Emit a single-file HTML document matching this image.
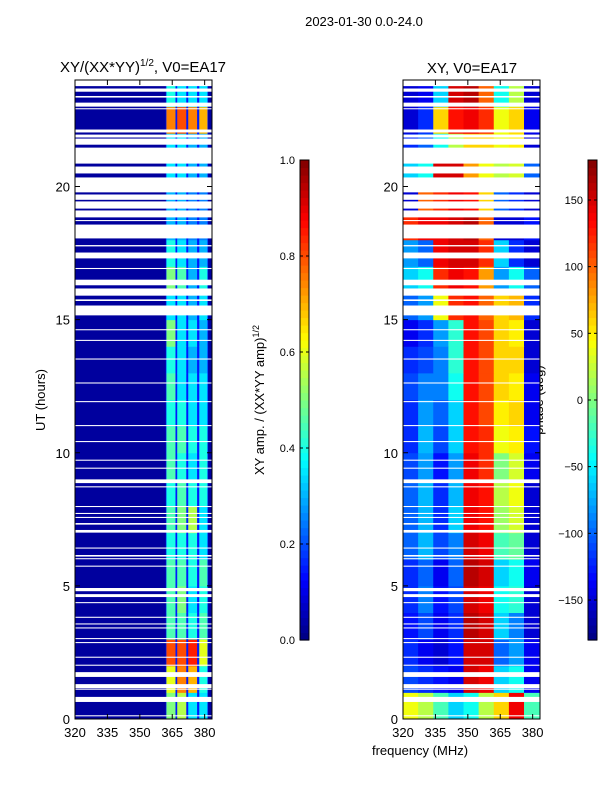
<!DOCTYPE html>
<html><head><meta charset="utf-8">
<style>
html,body{margin:0;padding:0;background:#fff;}
svg{display:block;font-family:"Liberation Sans",sans-serif;}
</style></head>
<body>
<svg id="fig" width="600" height="800" viewBox="0 0 600 800" xmlns="http://www.w3.org/2000/svg">
<text x="364" y="26" font-size="13" text-anchor="middle">2023-01-30 0.0-24.0</text>
<text x="143" y="72" font-size="15" text-anchor="middle">XY/(XX*YY)<tspan font-size="10" dy="-6">1/2</tspan><tspan dy="6">, V0=EA17</tspan></text>
<text x="472" y="73" font-size="15" text-anchor="middle">XY, V0=EA17</text>
<text x="45" y="400" font-size="13" text-anchor="middle" transform="rotate(-90 45 400)">UT (hours)</text>
<text x="264" y="400" font-size="13" text-anchor="middle" transform="rotate(-90 264 400)">XY amp. / (XX*YY amp)<tspan font-size="9" dy="-5">1/2</tspan></text>
<text x="543" y="400" font-size="13" text-anchor="middle" transform="rotate(-90 543 400)">phase (deg)</text>
<text x="420" y="755" font-size="13" text-anchor="middle">frequency (MHz)</text>
<g id="left"></g>
<g id="right"></g>
<g id="cbars"></g>
</svg>
<script>
const hours=[0,1,2,3,4,5,6,7,8,9,10,11,12,13,14,15,16,17,18,19,20,21,22,23];
const ampBandEdges=[[362.3,366.5],[367.3,371.5],[372.4,376.5],[377.5,381.3]];
const ampBackground=0.03;
const ampBetween=0.15;
const ampRows=[[0.5,0.55,0.35,0.35],[0.6,0.75,0.7,0.4],[0.8,0.8,0.85,0.6],[0.45,0.45,0.4,0.45],[0.45,0.5,0.35,0.4],[0.45,0.45,0.4,0.45],[0.4,0.4,0.4,0.35],[0.45,0.5,0.55,0.35],[0.4,0.45,0.4,0.4],[0.45,0.4,0.35,0.4],[0.45,0.45,0.4,0.4],[0.4,0.4,0.35,0.35],[0.45,0.35,0.35,0.35],[0.4,0.35,0.3,0.3],[0.5,0.35,0.35,0.3],[0.35,0.35,0.3,0.35],[0.5,0.45,0.3,0.4],[0.4,0.35,0.3,0.3],[0.3,0.3,0.25,0.25],[0.3,0.3,0.25,0.25],[0.35,0.35,0.3,0.3],[0.35,0.35,0.3,0.3],[0.75,0.8,0.75,0.7],[0.4,0.35,0.35,0.35]];
const phaseColEdges=[320,327,334,341,348,355,362,369,376,383.4];
const phaseRows=[[40,20,-20,-60,-40,20,60,140,-20],[-110,-120,-130,-140,150,140,-60,-40,-140],[-120,-140,-150,-130,150,150,-100,-80,-140],[-130,-110,-140,-120,160,150,-60,-90,-150],[-120,-90,-130,-110,150,140,-40,-30,-150],[-120,-100,-140,-100,160,150,-60,-40,-140],[-100,-70,-110,-90,150,140,-20,-10,-150],[-100,-70,-120,-60,140,130,10,30,-150],[-100,-70,-120,-70,140,130,20,40,-150],[-110,-80,-130,-80,140,120,0,30,-140],[-120,-70,-110,-60,130,120,40,50,-130],[-120,-80,-100,-60,130,110,50,60,-140],[-110,-90,-90,-40,130,110,60,50,-140],[-120,-110,-90,-30,130,110,60,60,-150],[-140,-120,-80,-30,130,110,60,50,-150],[-100,-80,40,120,130,100,60,70,-120],[-60,-40,120,140,130,80,-80,-40,-100],[-80,-100,140,150,150,120,-60,-120,-150],[120,140,140,150,160,100,-150,-150,-130],[-150,100,120,140,130,60,-100,-120,-150],[-60,-40,150,150,80,40,20,30,-100],[-120,-100,-40,20,60,60,40,50,-150],[-150,-120,60,130,140,120,40,60,-140],[-150,-140,-60,150,160,100,-40,20,-150]];
const gaps=[[23.77,24],[23.56,23.68],[23.34,23.4],[23.0,23.15],[22.9,22.94],[22.03,22.14],[21.84,21.95],[21.57,21.8],[20.86,21.46],[20.49,20.75],[19.78,20.34],[19.5,19.7],[19.17,19.44],[18.84,19.1],[18.7,18.74],[18.05,18.57],[17.75,17.8],[17.3,17.52],[16.9,16.94],[16.29,16.5],[15.9,16.17],[15.7,15.76],[15.16,15.53],[14.6,14.64],[14.2,14.24],[13.5,13.54],[12.6,12.64],[11.9,11.94],[11.0,11.04],[10.4,10.44],[9.7,9.74],[9.4,9.44],[8.86,9.0],[8.7,8.74],[7.96,8.0],[7.7,7.74],[7.55,7.59],[7.3,7.36],[7.0,7.1],[6.4,6.44],[6.1,6.16],[6.0,6.04],[5.72,5.76],[4.8,4.92],[4.58,4.69],[4.35,4.39],[3.8,3.84],[3.55,3.59],[3.4,3.44],[3.0,3.04],[2.85,2.89],[2.3,2.34],[2.0,2.04],[1.58,1.76],[1.16,1.31],[1.1,1.14],[0.64,0.83],[0.1,0.14]];
const yTicks=[0,5,10,15,20];
const xTicks=[320,335,350,365,380];
const ampCbTicks=[0,0.2,0.4,0.6,0.8,1.0];
const phaseCbTicks=[-150,-100,-50,0,50,100,150];

const NS="http://www.w3.org/2000/svg";
function jet(v){v=Math.max(0,Math.min(1,v));
 const r=Math.min(4*v-1.5,-4*v+4.5),g=Math.min(4*v-0.5,-4*v+3.5),b=Math.min(4*v+0.5,-4*v+2.5);
 const c=x=>Math.round(255*Math.max(0,Math.min(1,x)));return `rgb(${c(r)},${c(g)},${c(b)})`;}
function el(tag,attrs,parent){const e=document.createElementNS(NS,tag);for(const k in attrs)e.setAttribute(k,attrs[k]);parent.appendChild(e);return e;}
const yTop=80,yBot=719;
function yS(h){return yBot-(h/24)*(yBot-yTop);}
function makeX(x0){return f=>x0+(f-320)*(137/63.4);}

function axes(g,x0,xS,name){
 for(const t of yTicks){const y=yS(t);
  const tk=el('line',{x1:x0,x2:x0+5,y1:y,y2:y,stroke:'#000'},g);
  
  el('line',{x1:x0+137-5,x2:x0+137,y1:y,y2:y,stroke:'#000'},g);
  const tx=el('text',{x:x0-5,y:y+5,'font-size':13,'text-anchor':'end'},g);tx.textContent=t;
  }
 for(const t of xTicks){const x=xS(t);
  el('line',{x1:x,x2:x,y1:yBot,y2:yBot-5,stroke:'#000'},g);
  el('line',{x1:x,x2:x,y1:yTop,y2:yTop+5,stroke:'#000'},g);
  const tx=el('text',{x:x,y:737,'font-size':13,'text-anchor':'middle'},g);tx.textContent=t;
  }
 const fr=el('rect',{x:x0,y:yTop,width:137,height:yBot-yTop,fill:'none',stroke:'#000'},g);
 
}
function drawGaps(g,x0){for(const [a,b] of gaps){
 const r=el('rect',{x:x0,y:yS(b),width:137,height:Math.max(1,yS(a)-yS(b)),fill:'#fff'},g);
 }}

(function(){const g=document.getElementById('left');const x0=75,xS=makeX(x0);
 const bg=el('rect',{x:x0,y:yTop,width:137,height:yBot-yTop,fill:jet(ampBackground)},g);
 
 const bw=el('rect',{x:xS(362),y:yTop,width:xS(381.6)-xS(362),height:yBot-yTop,fill:jet(ampBetween)},g);
 
 hours.forEach((h,i)=>{ampRows[i].forEach((v,j)=>{const [a,b]=ampBandEdges[j];
  const r=el('rect',{x:xS(a),y:yS(h+1),width:xS(b)-xS(a),height:yS(h)-yS(h+1)+0.5,fill:jet(v)},g);
  });});
 drawGaps(g,x0);axes(g,x0,xS,'left');})();

(function(){const g=document.getElementById('right');const x0=403,xS=makeX(x0);
 hours.forEach((h,i)=>{phaseRows[i].forEach((v,j)=>{const a=phaseColEdges[j],b=phaseColEdges[j+1];
  const r=el('rect',{x:xS(a),y:yS(h+1),width:xS(b)-xS(a)+0.5,height:yS(h)-yS(h+1)+0.5,fill:jet((v+180)/360)},g);
  });});
 drawGaps(g,x0);axes(g,x0,xS,'right');})();

(function(){const g=document.getElementById('cbars');
 function cb(x,name,ticks,lo,hi,fmt){
  const n=64;for(let i=0;i<n;i++){const y=640-(i+1)*480/n;
   el('rect',{x:x,y:y,width:9,height:480/n+0.6,fill:jet((i+0.5)/n)},g);}
  const fr=el('rect',{x:x,y:160,width:9,height:480,fill:'none',stroke:'#000'},g);
  
  for(const t of ticks){const y=640-(t-lo)/(hi-lo)*480;
   el('line',{x1:x,x2:x+3,y1:y,y2:y,stroke:'#000'},g);
   el('line',{x1:x+6,x2:x+9,y1:y,y2:y,stroke:'#000'},g);
   const tx=el('text',{x:x-5,y:y+4,'font-size':11,'text-anchor':'end'},g);tx.textContent=fmt(t);
   }}
 cb(300,'amp-colorbar',ampCbTicks,0,1,t=>t.toFixed(1));
 cb(588,'phase-colorbar',phaseCbTicks,-180,180,t=>t<0?'\u2212'+(-t):String(t));})();
</script>
</body></html>
